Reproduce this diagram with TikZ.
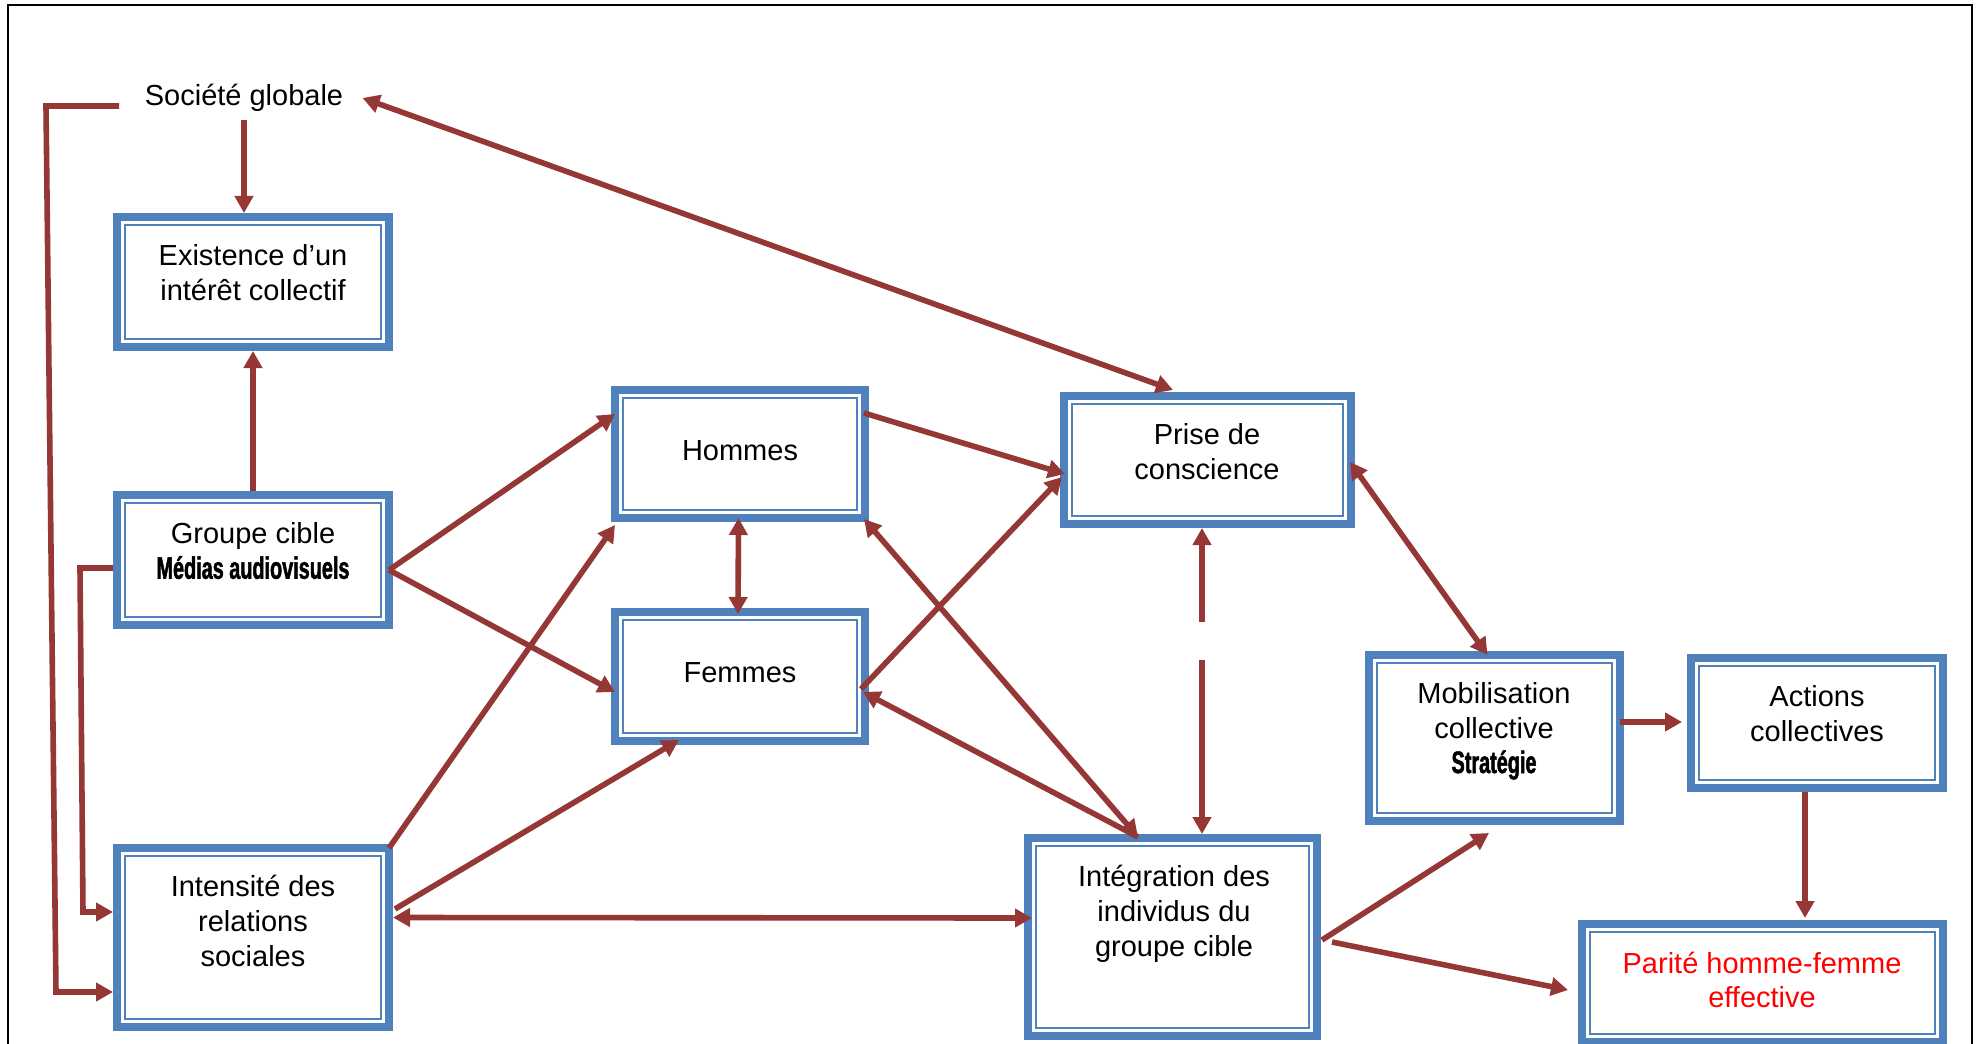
\documentclass[tikz,border=0pt]{standalone}
\usepackage{fontspec}
\setmainfont{Liberation Sans}
\newfontfamily\condfont[FakeStretch=0.64,FakeBold=1.5]{Liberation Sans}
\usetikzlibrary{arrows.meta}
\definecolor{boxblue}{HTML}{4F81BD}
\definecolor{arrred}{HTML}{953735}
\definecolor{partxt}{HTML}{FF0000}
\newcommand{\innerframe}[1]{\draw[thinframe] ([shift={(6pt,-6pt)}]#1.north west) rectangle ([shift={(-6pt,6pt)}]#1.south east);}
\tikzset{
  boxnode/.style 2 args={draw=boxblue, fill=white, line width=4.2pt, outer sep=2.1pt, inner sep=0pt,
    minimum width=#1*0.5pt-4.2pt, minimum height=#2*0.5pt-4.2pt},
  thinframe/.style={draw=boxblue, line width=1.25pt},
  txt/.style={font=\fontsize{14.5pt}{17.4pt}\selectfont, align=center, inner sep=2pt},
  conn/.style={draw=arrred, line width=2.8pt},
  >={Triangle[length=8.5pt,width=9pt]}
}
\newcommand{\cond}[1]{{\condfont\bfseries\fontsize{15.5pt}{17.4pt}\selectfont #1}}
\begin{document}
\begin{tikzpicture}[x=0.5pt,y=-0.5pt]
\useasboundingbox (0,0) rectangle (1979,1043);
\clip (0,0) rectangle (1979,1043);
\fill[white] (0,0) rectangle (1979,1043);
\draw[black, line width=1.2pt] (8,5) rectangle (1972,1070);

% boxes
\node[boxnode={280}{138}] (ex)   at (253,282)    {};
\node[boxnode={280}{138}] (grp)  at (253,560)    {};
\node[boxnode={280}{187}] (int)  at (253,937.5)  {};
\node[boxnode={258}{136}] (hom)  at (740,454)    {};
\node[boxnode={258}{137}] (fem)  at (740,676.5)  {};
\node[boxnode={295}{136}] (pri)  at (1207.5,460) {};
\node[boxnode={259}{174}] (mob)  at (1494.5,738) {};
\node[boxnode={260}{138}] (act)  at (1817,723)   {};
\node[boxnode={297}{206}] (intg) at (1172.5,937) {};
\node[boxnode={369}{126}] (par)  at (1762.5,983) {};
\innerframe{ex}\innerframe{grp}\innerframe{int}\innerframe{hom}\innerframe{fem}
\innerframe{pri}\innerframe{mob}\innerframe{act}\innerframe{intg}\innerframe{par}

% texts
\node[txt] (soc)   at (244,97.5)  {Société globale};
\node[txt] (exT)   at (253,273)   {Existence d’un\\intérêt collectif};
\node[txt] (grpT)  at (253,551)   {Groupe cible\\\cond{Médias audiovisuels}};
\node[txt] (intT)  at (253,921)   {Intensité des\\relations\\sociales};
\node[txt] (homT)  at (740,451)   {Hommes};
\node[txt] (femT)  at (740,673)   {Femmes};
\node[txt] (priT)  at (1207,452)  {Prise de\\conscience};
\node[txt] (mobT)  at (1494,731)  {Mobilisation\\collective\\\cond{Stratégie}};
\node[txt] (actT)  at (1817,714)  {Actions\\collectives};
\node[txt] (intgT) at (1174,914)  {Intégration des\\individus du\\groupe cible};
\node[txt, text=partxt] (parT) at (1762,980) {Parité homme-femme\\effective};

% free corner points
\coordinate (b1) at (119,106);
\coordinate (b2) at (46,106);
\coordinate (b3) at (56,992);
\coordinate (b4) at (80,568);
\coordinate (b5) at (83,912);
\coordinate (g1) at (1202,622);
\coordinate (g2) at (1202,660);

% connectors
\draw[conn,->] ([shift={(0,4)}]soc.south) -- (soc.south |- ex.north);
\draw[conn,->] (b1) -- (b2) -- (b3) -- (b3 -| int.west);
\draw[conn,->] ([shift={(0,8)}]grp.west) -- (b4) -- (b5) -- (b5 -| int.west);
\draw[conn,->] (grp.north) -- (ex.south);
\draw[conn,->] ([shift={(-4,10)}]grp.east) -- ([shift={(4,-40)}]hom.west);
\draw[conn,->] ([shift={(-4,10)}]grp.east) -- ([shift={(4,15.5)}]fem.west);
\draw[conn,<->] ([shift={(15,0.5)}]soc.east) -- ([shift={(-34.5,-2)}]pri.north);
\draw[conn,->] ([shift={(-5,-41)}]hom.east) -- ([shift={(5,14)}]pri.west);
\draw[conn,<->] ([shift={(-1.5,-4)}]hom.south) -- ([shift={(-2,6)}]fem.north);
\draw[conn,->] ([shift={(-8,12.5)}]fem.east) -- ([shift={(2,17)}]pri.west);
\draw[conn,->] ([shift={(-34.5,3)}]intg.north) -- ([shift={(-6,15.5)}]fem.east);
\draw[conn,<->] ([shift={(-5,-3)}]hom.south east) -- ([shift={(-34.5,3)}]intg.north);
\draw[conn,->] ([shift={(-4,4)}]int.north east) -- ([shift={(4,3)}]hom.south west);
\draw[conn,->] ([shift={(2,-28.5)}]int.east) -- ([shift={(68,-5)}]fem.south west);
\draw[conn,<->] ([shift={(0,-20)}]int.east) -- ([shift={(8,-19)}]intg.west);
\draw[conn,<-] ([shift={(-5.5,0)}]pri.south) -- (g1);
\draw[conn,->] (g2) -- ([shift={(29.5,0)}]intg.north);
\draw[conn,<->] ([shift={(-5,2)}]pri.east) -- ([shift={(-7,4)}]mob.north);
\draw[conn,->] ([shift={(-4,-16)}]mob.east) -- ([shift={(-5,-1)}]act.west);
\draw[conn,->] ([shift={(-12,0)}]act.south) -- ([shift={(42.5,-2)}]par.north);
\draw[conn,->] ([shift={(1,3)}]intg.east) -- ([shift={(-5.5,8)}]mob.south);
\draw[conn,->] ([shift={(11,5)}]intg.east) -- ([shift={(-10,7)}]par.west);
\end{tikzpicture}
\end{document}
